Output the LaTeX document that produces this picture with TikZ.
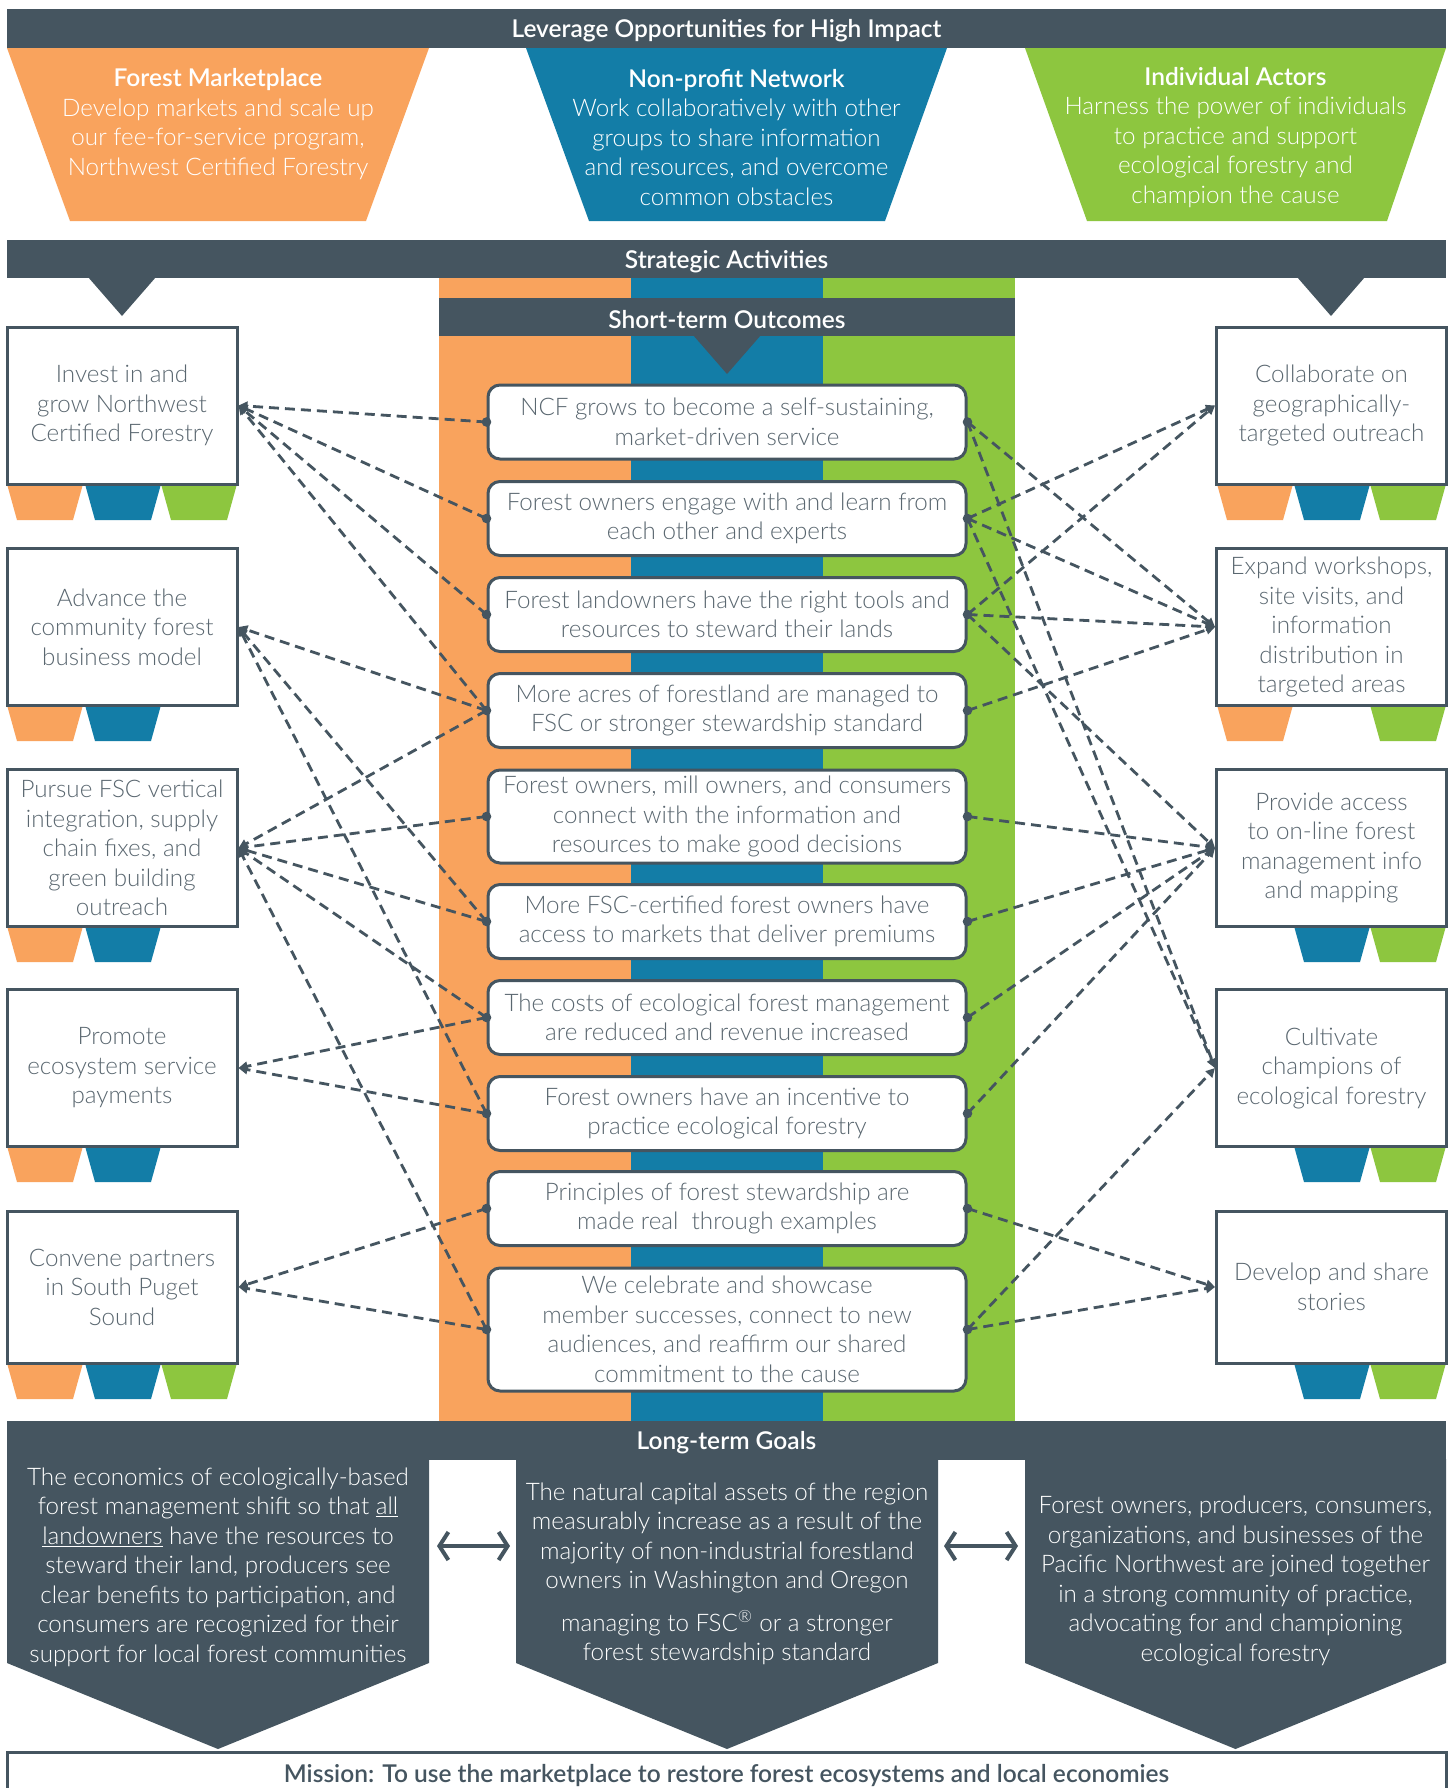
\documentclass[tikz,border=0pt]{standalone}
\usepackage{fontspec}
\setmainfont{Lato}
\newfontfamily\lightf{Lato Light}
\newfontfamily\semif{Lato Semibold}
\usetikzlibrary{arrows.meta}
\definecolor{slate}{RGB}{69,85,96}
\definecolor{orng}{RGB}{249,163,93}
\definecolor{blu}{RGB}{19,125,167}
\definecolor{grn}{RGB}{141,198,63}
\definecolor{txtgray}{RGB}{90,103,112}
\newcommand\fBody{\lightf\fontsize{24.2}{29.5}\selectfont}
\newcommand\fHead{\semif\fontsize{24.5}{29.5}\selectfont}
\newcommand\tabshape[3]{\fill[#1] (#2,#3) -- ++(76,0) -- ++(-10,36) -- ++(-56,0) -- cycle;}
\begin{document}
\begin{tikzpicture}[x=1pt,y=-1pt,
  hdr/.style={text=white, font=\fHead, inner sep=0, yshift=-1.5pt},
  wtext/.style={text=white, font=\fBody, align=center, inner sep=0, yshift=-2pt},
  actbox/.style={draw=slate, line width=3, fill=white, minimum width=230, minimum height=157, align=center, text=txtgray, font=\fBody, inner sep=0},
  outbox/.style={draw=slate, line width=3, fill=white, rounded corners=12, minimum width=478, align=center, text=txtgray, font=\fBody, inner sep=0},
  conn/.style={draw=slate, line width=2.8, dash pattern=on 10pt off 6pt, -{Triangle[length=9,width=9]}},
  dot/.style={fill=slate},
  dbl/.style={draw=slate, line width=4, {Straight Barb[length=9,width=28]}-{Straight Barb[length=9,width=28]}}
]
\useasboundingbox (0,0) rectangle (1453,1788);
\fill[white] (0,0) rectangle (1453,1788);

% ---------- top bar and trapezoids
\fill[slate] (7,9) rectangle (1446,48);
\node[hdr] (lev) at (726.5,29.5) {Leverage Opportunities for High Impact};
\fill[orng] (7,48) -- (429,48) -- (366,221) -- (70,221) -- cycle;
\fill[blu] (526,48) -- (947,48) -- (885,221) -- (589,221) -- cycle;
\fill[grn] (1025,48) -- (1446,48) -- (1387,221) -- (1087,221) -- cycle;
\node[wtext] (fm) at (218,122) {{\fHead Forest Marketplace}\\Develop markets and scale up\\our fee-for-service program,\\Northwest Certified Forestry};
\node[wtext] (np) at (736.5,135.5) {{\fHead Non-profit Network}\\Work collaboratively with other\\groups to share information\\and resources, and overcome\\common obstacles};
\node[wtext] (ia) at (1235.5,135.5) {{\fHead Individual Actors}\\Harness the power of individuals\\to practice and support\\ecological forestry and\\champion the cause};

% ---------- strategic bar
\fill[orng] (439,278) rectangle (631,1421);
\fill[blu] (631,278) rectangle (823,1421);
\fill[grn] (823,278) rectangle (1015,1421);
\fill[slate] (7,240) rectangle (1446,278);
\node[hdr] (sa) at (726.5,260) {Strategic Activities};
\fill[slate] (88,277) -- (156,277) -- (122,316) -- cycle;
\fill[slate] (1297,277) -- (1365,277) -- (1331,316) -- cycle;
\fill[slate] (439,298) rectangle (1015,336);
\node[hdr] (st) at (727,318) {Short-term Outcomes};
\fill[slate] (693,335) -- (761,335) -- (727,374) -- cycle;

% ---------- tabs
\tabshape{orng}{7}{484}\tabshape{blu}{85}{484}\tabshape{grn}{161}{484}
\tabshape{orng}{7}{705}\tabshape{blu}{85}{705}
\tabshape{orng}{7}{926}\tabshape{blu}{85}{926}
\tabshape{orng}{7}{1146}\tabshape{blu}{85}{1146}
\tabshape{orng}{7}{1363}\tabshape{blu}{85}{1363}\tabshape{grn}{161}{1363}
\tabshape{orng}{1217}{484}\tabshape{blu}{1294}{484}\tabshape{grn}{1370}{484}
\tabshape{orng}{1217}{705}\tabshape{grn}{1370}{705}
\tabshape{blu}{1294}{926}\tabshape{grn}{1370}{926}
\tabshape{blu}{1294}{1146}\tabshape{grn}{1370}{1146}
\tabshape{blu}{1294}{1363}\tabshape{grn}{1370}{1363}

% ---------- activity boxes
\node[actbox] (a1) at (122,405.5) {Invest in and\\grow Northwest\\Certified Forestry};
\node[actbox] (a2) at (122,627) {Advance the\\community forest\\business model};
\node[actbox] (a3) at (122,848) {Pursue FSC vertical\\integration, supply\\chain fixes, and\\green building\\outreach};
\node[actbox] (a4) at (122,1068) {Promote\\ecosystem service\\payments};
\node[actbox, minimum height=152] (a5) at (122,1287) {Convene partners\\in South Puget\\Sound};
\node[actbox] (b1) at (1331.5,405.5) {Collaborate on\\geographically-\\targeted outreach};
\node[actbox] (b2) at (1331.5,627) {Expand workshops,\\site visits, and\\information\\distribution in\\targeted areas};
\node[actbox] (b3) at (1331.5,848) {Provide access\\to on-line forest\\management info\\and mapping};
\node[actbox] (b4) at (1331.5,1068) {Cultivate\\champions of\\ecological forestry};
\node[actbox, minimum height=152] (b5) at (1331.5,1287) {Develop and share\\stories};

% ---------- outcome boxes
\node[outbox, minimum height=74] (o1) at (727,422) {NCF grows to become a self-sustaining,\\market-driven service};
\node[outbox, minimum height=74] (o2) at (727,518.5) {Forest owners engage with and learn from\\each other and experts};
\node[outbox, minimum height=74] (o3) at (727,614.5) {Forest landowners have the right tools and\\resources to steward their lands};
\node[outbox, minimum height=74] (o4) at (727,710.5) {More acres of forestland are managed to\\FSC or stronger stewardship standard};
\node[outbox, minimum height=93] (o5) at (727,816.5) {Forest owners, mill owners, and consumers\\connect with the information and\\resources to make good decisions};
\node[outbox, minimum height=74] (o6) at (727,921.5) {More FSC-certified forest owners have\\access to markets that deliver premiums};
\node[outbox, minimum height=74] (o7) at (727,1017.5) {The costs of ecological forest management\\are reduced and revenue increased};
\node[outbox, minimum height=74] (o8) at (727,1113.5) {Forest owners have an incentive to\\practice ecological forestry};
\node[outbox, minimum height=74] (o9) at (727,1208.5) {Principles of forest stewardship are\\made real\ \ through examples};
\node[outbox, minimum height=123] (o10) at (727,1329.5) {We celebrate and showcase\\member successes, connect to new\\audiences, and reaffirm our shared\\commitment to the cause};

% ---------- connectors (left)
\foreach \o/\a in {o1/a1,o2/a1,o3/a1,o4/a1,o4/a2,o6/a2,o8/a2,o4/a3,o5/a3,o6/a3,o7/a3,o10/a3,o7/a4,o8/a4,o9/a5,o10/a5}
  \draw[conn] (\o.west) -- (\a.east);
% ---------- connectors (right)
\foreach \o/\b in {o2/b1,o3/b1,o1/b2,o2/b2,o3/b2,o4/b2,o3/b3,o5/b3,o6/b3,o7/b3,o8/b3,o1/b4,o2/b4,o10/b4,o9/b5,o10/b5}
  \draw[conn] (\o.east) -- (\b.west);
\foreach \o in {o1,o2,o3,o4,o5,o6,o7,o8,o9,o10}{
  \fill[dot] (\o.west) circle (4.8);
  \fill[dot] (\o.east) circle (4.8);
}

% ---------- long-term goals
\fill[slate] (7,1421) rectangle (1446,1460);
\node[hdr] (lt) at (726.5,1441) {Long-term Goals};
\fill[slate] (7,1459) -- (429,1459) -- (429,1663) -- (218,1749) -- (7,1663) -- cycle;
\fill[slate] (516,1459) -- (938,1459) -- (938,1663) -- (727,1749) -- (516,1663) -- cycle;
\fill[slate] (1025,1459) -- (1446,1459) -- (1446,1663) -- (1235.5,1749) -- (1025,1663) -- cycle;
\node[wtext] (g1) at (218,1565) {The economics of ecologically-based\\forest management shift so that \underline{all}\\\underline{landowners} have the resources to\\steward their land, producers see\\clear benefits to participation, and\\consumers are recognized for their\\support for local forest communities};
\node[wtext] (g2) at (727,1572) {The natural capital assets of the region\\measurably increase as a result of the\\majority of non-industrial forestland\\owners in Washington and Oregon\\[13pt]managing to FSC\textsuperscript{®} or a stronger\\forest stewardship standard};
\node[wtext] (g3) at (1235.5,1579) {Forest owners, producers, consumers,\\organizations, and businesses of the\\Pacific Northwest are joined together\\in a strong community of practice,\\advocating for and championing\\ecological forestry};
\coordinate (d1a) at (437,1546); \coordinate (d1b) at (510,1546);
\coordinate (d2a) at (944,1546); \coordinate (d2b) at (1018,1546);
\draw[dbl] (d1a) -- (d1b);
\draw[dbl] (d2a) -- (d2b);

% ---------- mission
\draw[slate, line width=3, fill=white] (7,1752) rectangle (1446,1800);
\node[text=slate, font=\fHead, inner sep=0, yshift=-1.5pt] (mis) at (726.5,1774) {Mission: To use the marketplace to restore forest ecosystems and local economies};
\end{tikzpicture}
\end{document}
